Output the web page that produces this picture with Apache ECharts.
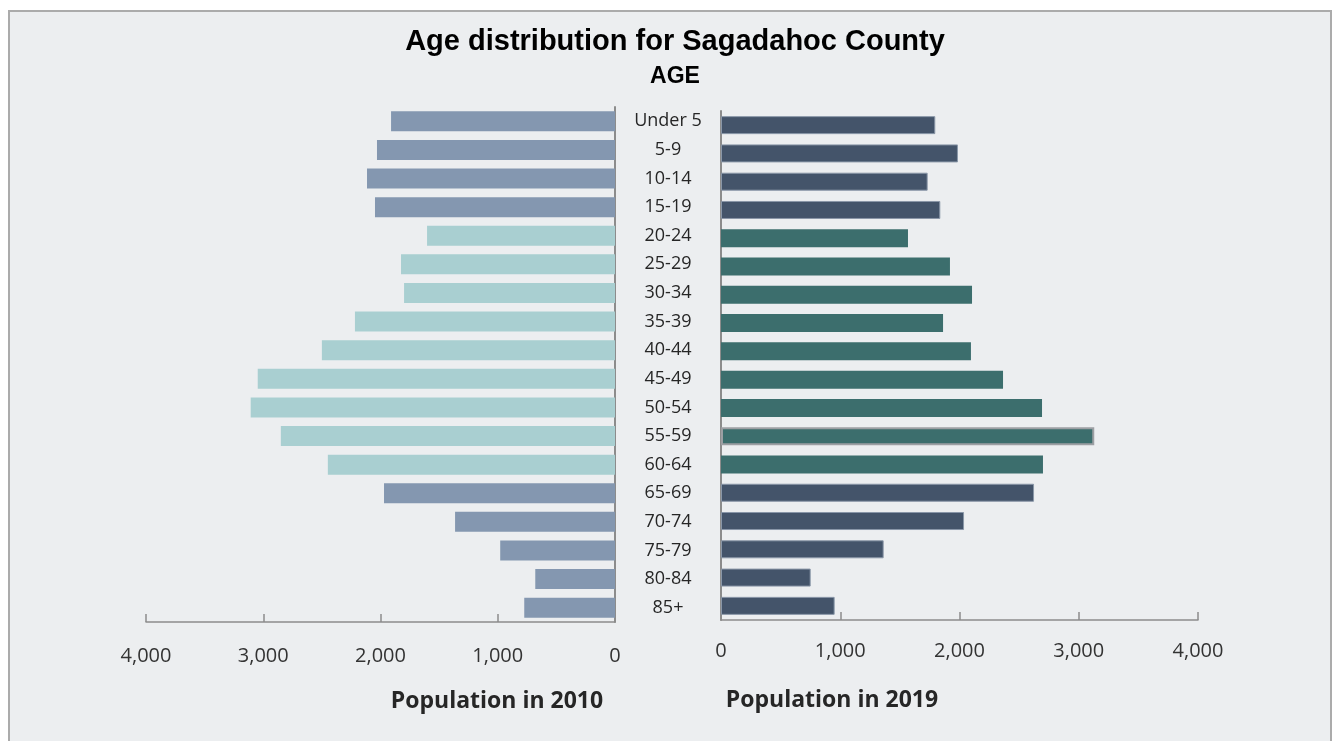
<!DOCTYPE html>
<html>
<head>
<meta charset="utf-8">
<script src="https://cdn.jsdelivr.net/npm/echarts@6/dist/echarts.min.js"></script>
<style>
  html, body { margin: 0; padding: 0; background: #ffffff; }
  #frame { position: absolute; left: 8px; top: 10px; width: 1320px; height: 740px;
           border-top: 2px solid #ABABAB; border-left: 2px solid #ABABAB; border-right: 2px solid #ABABAB;
           background: #ECEEF0; }
  #chart { position: absolute; left: 0; top: 0; width: 1332px; height: 741px; }
</style>
</head>
<body>
<div id="frame"></div>
<div id="chart"></div>
<script>
const categories = ['Under 5','5-9','10-14','15-19','20-24','25-29','30-34','35-39','40-44',
                    '45-49','50-54','55-59','60-64','65-69','70-74','75-79','80-84','85+'];
const pop2010 = [1910, 2030, 2115, 2047, 1603, 1825, 1799, 2218, 2500,
                 3047, 3107, 2850, 2449, 1970, 1364, 979, 680, 774];
const pop2019 = [1797, 1987, 1733, 1839, 1568, 1920, 2105, 1862, 2096,
                 2365, 2692, 3130, 2700, 2625, 2038, 1364, 752, 953];
const xTicks = [0, 1000, 2000, 3000, 4000];
const workingAge = ['20-24','25-29','30-34','35-39','40-44','45-49','50-54','55-59','60-64'];
const highlighted = '55-59';

const chart = echarts.init(document.getElementById('chart'));
const font = 'Open Sans';
const axisGray = '#8C8C8C';

const leftData = pop2010.map((v, i) => ({
  value: v,
  itemStyle: { color: workingAge.includes(categories[i]) ? '#A9CFD1' : '#8497B0' }
}));
const rightData = pop2019.map((v, i) => {
  const wa = workingAge.includes(categories[i]);
  const it = { value: v, itemStyle: { color: wa ? '#3C6E6D' : '#44546A',
               borderColor: wa ? 'rgba(0,0,0,0)' : '#8A97A8', borderWidth: wa ? 0 : 1 } };
  if (categories[i] === highlighted) {
    it.itemStyle.borderColor = '#9C9FA3';
    it.itemStyle.borderWidth = 2;
  }
  return it;
});

const fmt = v => xTicks.includes(v) ? v.toLocaleString('en-US') : '';

const option = {
  backgroundColor: 'transparent',
  animation: false,
  title: [
    { text: 'Age distribution for Sagadahoc County', left: 670, top: 22, textAlign: 'center',
      textStyle: { fontFamily: 'Liberation Sans', fontWeight: 'bold', fontSize: 29, color: '#000' } },
    { text: 'AGE', left: 670, top: 60, textAlign: 'center',
      textStyle: { fontFamily: 'Liberation Sans', fontWeight: 'bold', fontSize: 23, color: '#000' } },
    { text: 'Population in 2010', left: 492, top: 685, textAlign: 'center',
      textStyle: { fontFamily: font, fontWeight: 'bold', fontSize: 23, color: '#262626' } },
    { text: 'Population in 2019', left: 827, top: 684, textAlign: 'center',
      textStyle: { fontFamily: font, fontWeight: 'bold', fontSize: 23, color: '#262626' } }
  ],
  grid: [
    { left: 146, right: 717, top: 107, bottom: 119 },
    { left: 721, right: 134, top: 111, bottom: 121 }
  ],
  xAxis: [
    { gridIndex: 0, type: 'value', inverse: true, min: 0, max: 4000, interval: 1000,
      axisLine: { show: true, lineStyle: { color: axisGray, width: 1.5 } },
      axisTick: { show: true, inside: true, length: 8, lineStyle: { color: axisGray, width: 1.5 } },
      axisLabel: { margin: 24, formatter: fmt, fontFamily: font, fontSize: 20, color: '#333' },
      splitLine: { show: false } },
    { gridIndex: 1, type: 'value', min: 0, max: 4000, interval: 1000,
      axisLine: { show: true, lineStyle: { color: axisGray, width: 1.5 } },
      axisTick: { show: true, inside: true, length: 8, lineStyle: { color: axisGray, width: 1.5 } },
      axisLabel: { margin: 21, formatter: fmt, fontFamily: font, fontSize: 20, color: '#333' },
      splitLine: { show: false } }
  ],
  yAxis: [
    { gridIndex: 0, type: 'category', data: categories, inverse: true, position: 'right',
      axisLine: { show: true, lineStyle: { color: axisGray, width: 2 } },
      axisTick: { show: false },
      axisLabel: { align: 'center', margin: 53, fontFamily: font, fontSize: 18, color: '#262626' } },
    { gridIndex: 1, type: 'category', data: categories, inverse: true, position: 'left',
      axisLine: { show: true, lineStyle: { color: axisGray, width: 2 } },
      axisTick: { show: false }, axisLabel: { show: false } }
  ],
  series: [
    { name: 'Population in 2010', type: 'bar', xAxisIndex: 0, yAxisIndex: 0, data: leftData, barWidth: 20 },
    { name: 'Population in 2019', type: 'bar', xAxisIndex: 1, yAxisIndex: 1, data: rightData, barWidth: 18 }
  ]
};
chart.setOption(option);
</script>
</body>
</html>
